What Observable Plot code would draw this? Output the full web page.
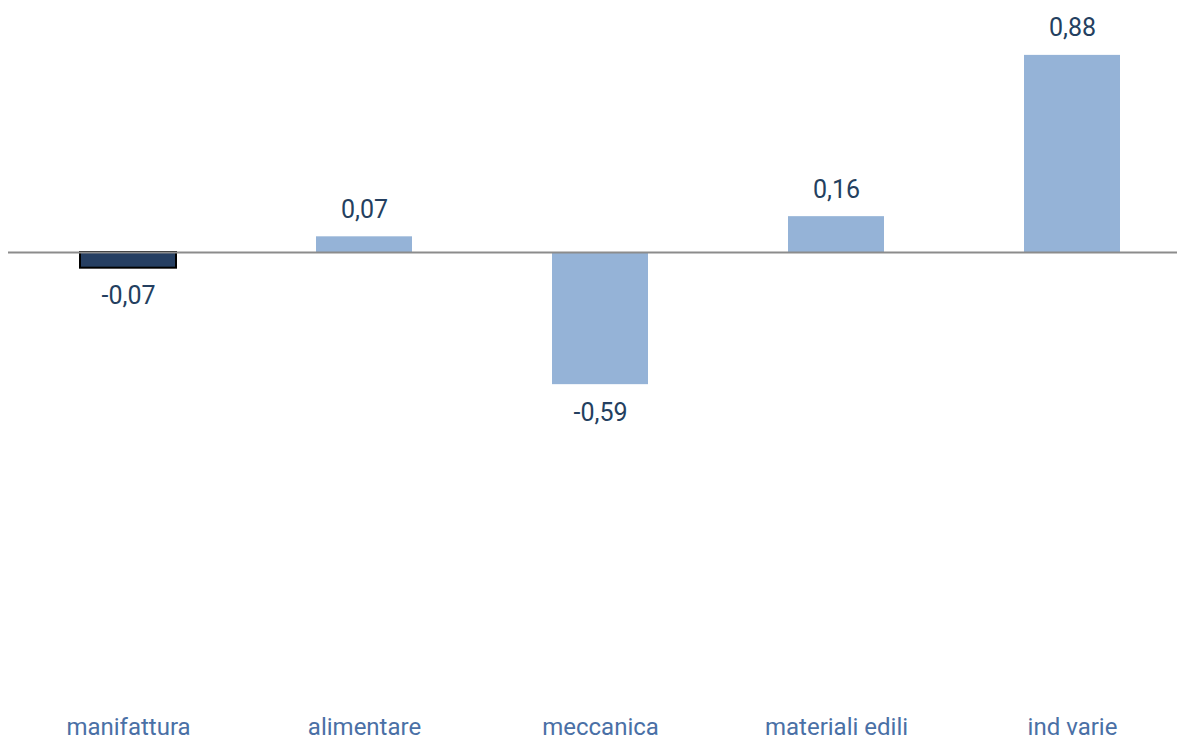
<!DOCTYPE html>
<html><head><meta charset="utf-8">
<script src="https://cdn.jsdelivr.net/npm/d3@7"></script>
<script src="https://cdn.jsdelivr.net/npm/@observablehq/plot@0.6"></script>
<style>body{margin:0;background:#fff;} svg{display:block;}</style>
</head><body><div id="chart"></div>
<script>
const categories = ["manifattura", "alimentare", "meccanica", "materiali edili", "ind varie"];
const values = [-0.07, 0.07, -0.59, 0.16, 0.88];
const highlight = ["manifattura"];

const data = categories.map((c, i) => ({cat: c, v: values[i], hl: highlight.includes(c)}));
const fmt = v => v.toFixed(2).replace(".", ",");
const font = "Roboto, 'Liberation Sans', sans-serif";

const chart = Plot.plot({
  width: 1177,
  height: 742,
  marginLeft: 8,
  marginRight: 0,
  marginTop: 28,
  marginBottom: 42,
  style: {fontFamily: font, background: "#fff"},
  x: {domain: categories, range: [9.5, 1191], paddingInner: 0.593, paddingOuter: 0.2965, label: null},
  y: {domain: [-2, 1], axis: null},
  marks: [
    Plot.barY(data.filter(d => !d.hl), {x: "cat", y: "v", fill: "#95b3d7"}),
    Plot.barY(data.filter(d => d.hl), {x: "cat", y: "v", fill: "#263f62", stroke: "#000", strokeWidth: 2}),
    Plot.ruleY([0], {stroke: "#8c8c8c", strokeWidth: 2}),
    Plot.text(data.filter(d => d.v >= 0), {x: "cat", y: "v", text: d => fmt(d.v), dy: -27, fill: "#243f60", fontSize: 25, lineAnchor: "middle"}),
    Plot.text(data.filter(d => d.v < 0), {x: "cat", y: "v", text: d => fmt(d.v), dy: 28, fill: "#243f60", fontSize: 25, lineAnchor: "middle"}),
    Plot.axisX({tickSize: 0, tickPadding: 17, fontSize: 24, color: "#4a70a6", label: null})
  ]
});
document.getElementById("chart").append(chart);
</script>
</body></html>
